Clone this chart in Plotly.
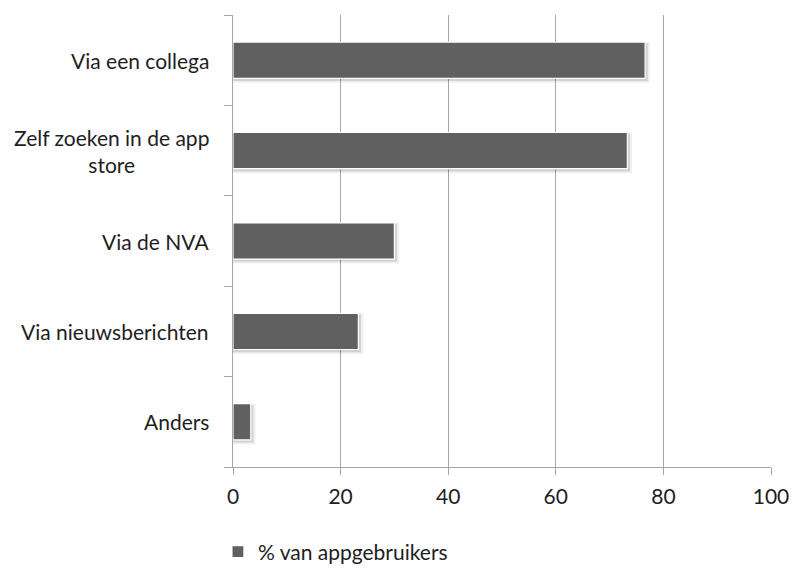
import plotly.graph_objects as go

# Survey: how app users found the app
categories = ["Via een collega", "Zelf zoeken in de app<br>store", "Via de NVA",
              "Via nieuwsberichten", "Anders"]
percentages = [76.6, 73.3, 30.0, 23.3, 3.3]
x_ticks = [0, 20, 40, 60, 80, 100]
series_name = "% van appgebruikers"

FONT = "Lato, 'Open Sans', sans-serif"
BAR = "#606060"
GRID = "#a6a6a6"
TEXT = "#1e1e1e"

W, H = 792, 569
L, R, T, B = 233, 21, 15, 102
plot_w = W - L - R

# plot categories top-to-bottom
cats = categories[::-1]
vals = percentages[::-1]
keys = [f"c{i}" for i in range(len(cats))]

fig = go.Figure()

# soft drop shadow below/right of each bar (two layers for a blurred edge)
fig.add_trace(go.Bar(
    y=keys, x=[v + 0.9 for v in vals], orientation="h",
    marker=dict(color="rgba(0,0,0,0.06)", line=dict(width=0)),
    width=0.45, offset=-0.25, showlegend=False, hoverinfo="skip",
))
fig.add_trace(go.Bar(
    y=keys, x=[v + 0.5 for v in vals], orientation="h",
    marker=dict(color="rgba(0,0,0,0.12)", line=dict(width=0)),
    width=0.42, offset=-0.23, showlegend=False, hoverinfo="skip",
))

fig.add_trace(go.Bar(
    y=keys, x=vals, orientation="h", name=series_name,
    marker=dict(color=BAR, line=dict(color="white", width=1.2)),
    width=0.4, offset=-0.2,
))

fig.update_layout(
    width=W, height=H,
    margin=dict(l=L, r=R, t=T, b=B, autoexpand=False),
    paper_bgcolor="white", plot_bgcolor="white",
    barmode="overlay",
    font=dict(family=FONT, size=21, color=TEXT),
    showlegend=True,
    legend=dict(orientation="h", x=-0.028, xanchor="left",
                y=17 / H, yref="container", yanchor="middle",
                font=dict(size=21, color=TEXT), itemwidth=30,
                bgcolor="rgba(0,0,0,0)"),
)

fig.update_xaxes(
    range=[0, 100], tickvals=x_ticks, ticktext=[str(t) for t in x_ticks],
    showgrid=True, gridcolor=GRID, gridwidth=1,
    showline=True, linecolor=GRID, linewidth=1,
    ticks="outside", ticklen=7, tickcolor=GRID, ticklabelstandoff=4,
    tickfont=dict(size=21, color=TEXT), zeroline=False, automargin=False,
)

fig.update_yaxes(
    categoryorder="array", categoryarray=keys,
    showticklabels=False, showgrid=False,
    showline=True, linecolor=GRID, linewidth=1,
    ticks="outside", ticklen=8, tickcolor=GRID, tickson="boundaries",
    range=[-0.5, len(keys) - 0.5], automargin=False,
)

# category labels, centred lines, right edge next to the axis
for k, c in zip(keys, cats):
    fig.add_annotation(
        x=-22 / plot_w, xref="paper", y=k, yref="y",
        text=c, showarrow=False, xanchor="right", yanchor="middle",
        align="center", font=dict(size=21, color=TEXT, family=FONT),
    )

fig.write_html("out.html")
